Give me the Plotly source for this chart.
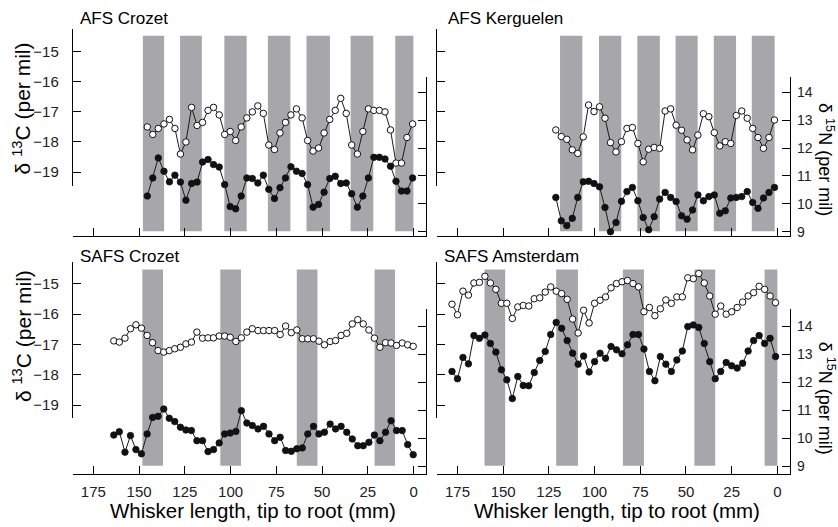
import plotly.graph_objects as go

W, H = 838, 527

# ---------------- data ----------------
# AFS Crozet
tl_x = [145.5, 142.5, 139.5, 136.4, 133.4, 130.4, 127.4, 124.4, 121.3, 118.3, 115.3, 112.3, 109.3,
        106.2, 103.2, 100.2, 97.2, 94.2, 91.1, 88.1, 85.1, 82.1, 79.1, 76.0, 73.0, 70.0, 67.0, 64.0,
        60.9, 57.9, 54.9, 51.9, 48.9, 45.8, 42.8, 39.8, 36.8, 33.8, 30.7, 27.7, 24.7, 21.7, 18.7,
        15.6, 12.6, 9.6, 6.6, 3.6, 0.5]
tl_c13 = [-17.5, -17.75, -17.55, -17.4, -17.25, -17.55, -18.4, -18.0, -16.85, -17.45,
          -17.35, -16.95, -16.85, -17.1, -17.75, -17.65, -17.95, -17.5, -17.2, -17.0,
          -16.8, -17.05, -18.1, -18.25, -17.7, -17.35, -17.1, -16.9, -17.2, -17.95,
          -18.3, -18.2, -17.7, -17.25, -16.95, -16.55, -17.05, -18.1, -18.4, -17.65,
          -16.9, -16.95, -16.95, -17.0, -17.6, -18.7, -18.7, -17.85, -17.4]
tl_n15 = [10.28, 10.93, 11.65, 11.17, 10.79, 11.03, 10.78, 10.13, 10.73, 10.78,
          11.5, 11.59, 11.41, 11.32, 10.69, 9.9, 9.82, 10.28, 10.93, 10.91,
          10.75, 11.03, 10.52, 10.19, 10.58, 10.93, 11.33, 11.17, 11.09, 10.69,
          9.88, 9.98, 10.42, 10.91, 10.99, 10.73, 10.75, 10.36, 9.88, 10.28,
          10.93, 11.67, 11.67, 11.61, 11.35, 10.81, 10.46, 10.46, 10.93]
tl_bands = [(147.9, 136.3), (127.6, 115.7), (103.4, 91.2), (79.6, 67.3),
            (58.5, 45.7), (34.4, 22.0), (10.0, 0.1)]

# AFS Kerguelen
tr_x = [121.2, 118.2, 115.2, 112.2, 109.2, 106.2, 103.3, 100.3, 97.3, 94.3, 91.3, 88.3, 85.3,
        82.3, 79.3, 76.3, 73.4, 70.4, 67.4, 64.4, 61.4, 58.4, 55.4, 52.4, 49.4, 46.4, 43.5,
        40.5, 37.5, 34.5, 31.5, 28.5, 25.5, 22.5, 19.5, 16.5, 13.5, 10.6, 7.6, 4.6, 1.6]
tr_c13 = [-17.6, -17.82, -17.91, -18.26, -18.38, -17.83, -16.77, -16.99, -16.83, -17.21,
          -18.02, -18.33, -17.99, -17.55, -17.52, -18.05, -18.66, -18.24, -18.18, -18.21,
          -16.97, -16.9, -17.44, -17.61, -17.93, -18.26, -17.77, -17.06, -17.16, -17.69,
          -18.13, -17.99, -18.05, -17.12, -16.97, -17.21, -17.55, -17.85, -18.21, -17.85,
          -17.27]
tr_n15 = [10.23, 9.39, 9.22, 9.48, 10.23, 10.79, 10.81, 10.73, 10.61, 9.87,
          9.0, 9.33, 10.09, 10.44, 10.59, 10.11, 9.51, 9.07, 9.54, 10.17,
          10.41, 10.23, 10.08, 9.57, 9.45, 9.78, 10.32, 10.11, 10.26, 10.32,
          9.66, 9.75, 10.21, 10.23, 10.26, 10.44, 10.05, 9.84, 10.21, 10.41,
          10.59]
tr_bands = [(118.9, 106.7), (97.6, 85.4), (76.6, 64.3), (55.7, 43.6),
            (34.8, 22.6), (14.0, 1.5)]

# SAFS Crozet
bl_x = [163.8, 160.8, 157.7, 154.7, 151.7, 148.7, 145.6, 142.6, 139.6, 136.5, 133.5, 130.5,
        127.4, 124.4, 121.4, 118.4, 115.3, 112.3, 109.3, 106.2, 103.2, 100.2, 97.1, 94.1,
        91.1, 88.1, 85.0, 82.0, 79.0, 75.9, 72.9, 69.9, 66.8, 63.8, 60.8, 57.8, 54.7, 51.7,
        48.7, 45.6, 42.6, 39.6, 36.5, 33.5, 30.5, 27.5, 24.4, 21.4, 18.4, 15.3, 12.3, 9.3,
        6.2, 3.2, 0.2]
bl_c13 = [-16.88, -16.92, -16.79, -16.48, -16.35, -16.46, -16.7, -16.94, -17.2, -17.25,
          -17.2, -17.14, -17.09, -16.98, -16.92, -16.59, -16.79, -16.78, -16.78, -16.72,
          -16.72, -16.76, -16.9, -16.78, -16.59, -16.48, -16.54, -16.54, -16.54, -16.54,
          -16.67, -16.39, -16.61, -16.52, -16.81, -16.81, -16.81, -16.89, -17.01, -16.9,
          -16.87, -16.7, -16.63, -16.32, -16.18, -16.32, -16.52, -16.79, -17.09, -16.94,
          -16.95, -17.03, -16.95, -17.01, -17.06]
bl_n15 = [10.11, 10.23, 9.5, 10.09, 9.59, 9.44, 10.15, 10.74, 10.78, 11.04,
          10.71, 10.59, 10.39, 10.29, 10.27, 9.91, 9.91, 9.52, 9.59, 9.83,
          10.15, 10.18, 10.24, 10.98, 10.54, 10.45, 10.33, 10.42, 10.15, 9.91,
          10.03, 9.56, 9.53, 9.62, 9.65, 10.15, 10.42, 10.15, 10.21, 10.5,
          10.33, 10.42, 10.21, 9.97, 9.73, 9.73, 9.85, 10.11, 9.91, 10.21,
          10.62, 10.27, 10.27, 9.77, 9.41]
bl_bands = [(148.2, 136.9), (105.6, 94.3), (63.8, 52.5), (21.3, 10.1)]

# SAFS Amsterdam
br_x = [178, 175, 172, 169, 166, 163, 160, 157, 154, 151, 148, 145, 142, 139, 136, 133, 130,
        127, 124, 121, 118, 115, 112, 109, 106, 103, 100, 97, 94, 91, 88, 85, 82, 79, 76, 73,
        70, 67, 64, 61, 58, 55, 52, 49, 46, 43, 40, 37, 34, 31, 28, 25, 22, 19, 16, 13, 10,
        7, 4, 1]
br_c13 = [-15.67, -16.02, -15.24, -15.37, -14.97, -14.95, -14.75, -14.97, -15.18, -15.64,
          -15.64, -16.14, -15.76, -15.71, -15.73, -15.49, -15.46, -15.27, -15.1, -15.24,
          -15.32, -15.51, -16.16, -16.62, -15.87, -16.29, -15.64, -15.54, -15.43,
          -15.13, -14.99, -14.93, -14.89, -14.99, -15.1, -15.92, -15.78, -16.05, -15.82,
          -15.53, -15.64, -15.43, -15.43, -14.8, -14.83, -14.66, -14.97, -15.4, -16.0,
          -15.73, -16.0, -15.92, -15.78, -15.6, -15.4, -15.29, -15.08, -15.18, -15.4, -15.62]
br_n15 = [12.38, 12.12, 12.88, 12.65, 13.66, 13.56, 13.68, 13.38, 13.07, 12.44,
          12.08, 11.41, 12.2, 11.88, 11.87, 12.34, 12.77, 13.09, 13.7, 14.13,
          13.92, 13.48, 13.03, 12.64, 12.93, 12.36, 12.73, 13.03, 12.85,
          13.27, 13.15, 13.01, 13.33, 13.7, 13.7, 13.18, 12.38, 12.05, 12.91,
          12.64, 12.38, 12.79, 13.11, 13.98, 14.04, 13.95, 13.38, 12.73, 12.12,
          12.38, 12.7, 12.58, 12.5, 12.67, 13.11, 13.48, 13.66, 13.38, 13.56, 12.91]
br_bands = [(160.2, 148.9), (121.0, 109.1), (84.5, 73.0), (45.4, 34.0), (7.0, 0.0)]

panel_titles = ["AFS Crozet", "AFS Kerguelen", "SAFS Crozet", "SAFS Amsterdam"]
x_ticks = [175, 150, 125, 100, 75, 50, 25, 0]
c13_ticks = [-15, -16, -17, -18, -19]
n15_ticks = [9, 10, 11, 12, 13, 14]
c13_title = "δ <sup>13</sup>C (per mil)"
n15_title = "δ <sup>15</sup>N (per mil)"
x_title = "Whisker length, tip to root (mm)"

# ---------------- layout geometry (pixels) ----------------
FONT = "Arial, Liberation Sans, sans-serif"
BAR = "#a7a7a9"

def fx(p):
    return p / W

def fy(p):
    return 1 - p / H

cols = [dict(x0=73, x1=426, xr=[186.1, -6.8]),
        dict(x0=437, x1=790, xr=[186.2, -6.9])]
rows = [dict(axis=237.5, l=(29, 187), lr=[-19.46, -14.24], r=(77, 237.5), rr=[8.84, 14.57],
             band=(36, 232.5), title=19),
        dict(axis=477, l=(264, 420), lr=[-19.41, -14.295], r=(311, 477), rr=[8.71, 14.60],
             band=(271, 468.5), title=258)]

panels = [
    (0, 0, tl_x, tl_c13, tl_n15, tl_bands, 78),
    (0, 1, tr_x, tr_c13, tr_n15, tr_bands, 446),
    (1, 0, bl_x, bl_c13, bl_n15, bl_bands, 78),
    (1, 1, br_x, br_c13, br_n15, br_bands, 442),
]

fig = go.Figure()
layout = dict(width=W, height=H, margin=dict(l=0, r=0, t=0, b=0),
              paper_bgcolor="white", plot_bgcolor="rgba(0,0,0,0)", showlegend=False,
              font=dict(family=FONT, color="black"))
shapes = []
annotations = []

TICKFONT = dict(family=FONT, size=15, color="#222")
axis_common = dict(showgrid=False, zeroline=False, showline=True, linecolor="black",
                   linewidth=1.4, ticks="inside", ticklen=8, tickwidth=1.4,
                   tickcolor="black", tickfont=TICKFONT)

for i, (r, c, xs, c13, n15, bands, tx) in enumerate(panels):
    row, col = rows[r], cols[c]
    xn = "x" if i == 0 else f"x{i+1}"
    yl = 2 * i + 1
    yr = 2 * i + 2
    yln = "y" if yl == 1 else f"y{yl}"
    yrn = f"y{yr}"
    bottom = (r == 1)
    layout["xaxis" if i == 0 else f"xaxis{i+1}"] = dict(
        axis_common, domain=[fx(col["x0"]), fx(col["x1"])], range=col["xr"],
        anchor=yrn, tickvals=x_ticks, showticklabels=bottom, ticklabelstandoff=4)
    layout["yaxis" if yl == 1 else f"yaxis{yl}"] = dict(
        axis_common, domain=[fy(row["l"][1]), fy(row["l"][0])], range=row["lr"],
        anchor=xn, side="left", tickvals=c13_ticks, showticklabels=(c == 0),
        ticklabelstandoff=10)
    layout[f"yaxis{yr}"] = dict(
        axis_common, domain=[fy(row["r"][1]), fy(row["r"][0])], range=row["rr"],
        anchor=xn, side="right", tickvals=n15_ticks, showticklabels=(c == 1),
        ticklabelstandoff=3, tickfont=dict(family=FONT, size=14, color="#222"))

    for (a, b) in bands:
        shapes.append(dict(type="rect", xref=xn, yref="paper", x0=a, x1=b,
                           y0=fy(row["band"][1]), y1=fy(row["band"][0]),
                           fillcolor=BAR, line=dict(width=0), layer="below"))

    fig.add_trace(go.Scatter(x=xs, y=n15, xaxis=xn, yaxis=yrn, mode="lines+markers",
                             line=dict(color="#1a1a1a", width=1),
                             marker=dict(symbol="circle", size=6.5, color="#111",
                                         line=dict(color="#111", width=0.8)),
                             cliponaxis=False))
    fig.add_trace(go.Scatter(x=xs, y=c13, xaxis=xn, yaxis=yln, mode="lines+markers",
                             line=dict(color="#1a1a1a", width=1),
                             marker=dict(symbol="circle", size=6.5, color="white",
                                         line=dict(color="#111", width=1)),
                             cliponaxis=False))

    annotations.append(dict(text=panel_titles[i], xref="paper", yref="paper",
                            x=fx(tx), y=fy(row["title"]), xanchor="left", yanchor="middle",
                            showarrow=False, font=dict(family=FONT, size=17, color="black")))

# axis titles
for yc in (109, 338):
    annotations.append(dict(text=c13_title, xref="paper", yref="paper", x=fx(22), y=fy(yc),
                            textangle=-90, showarrow=False, xanchor="center", yanchor="middle",
                            font=dict(family=FONT, size=21, color="black")))
for yc in (160, 400):
    annotations.append(dict(text=n15_title, xref="paper", yref="paper", x=fx(826), y=fy(yc),
                            textangle=90, showarrow=False, xanchor="center", yanchor="middle",
                            font=dict(family=FONT, size=18, color="black")))
for xc in (253, 617):
    annotations.append(dict(text=x_title, xref="paper", yref="paper", x=fx(xc), y=fy(513),
                            showarrow=False, xanchor="center", yanchor="middle",
                            font=dict(family=FONT, size=20.5, color="black")))

layout["shapes"] = shapes
layout["annotations"] = annotations
fig.update_layout(**layout)
fig.write_html("out.html")
